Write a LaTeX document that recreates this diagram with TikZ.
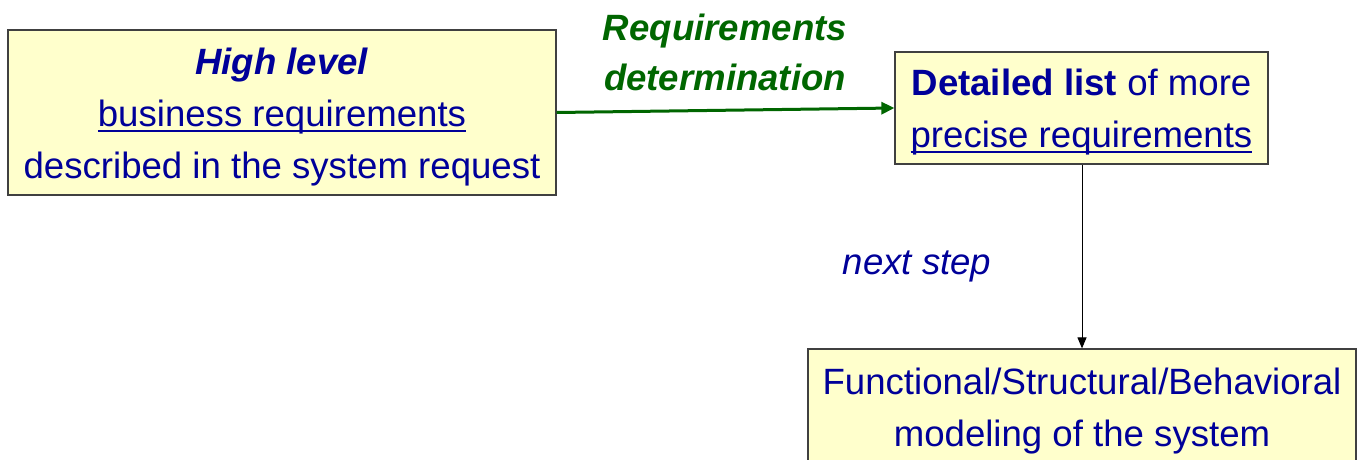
\documentclass[tikz,border=0pt]{standalone}
\usepackage{fontspec}
\setmainfont{Liberation Sans}
\usetikzlibrary{arrows.meta}
\definecolor{navy}{HTML}{000099}
\definecolor{dgreen}{HTML}{006600}
\definecolor{boxfill}{HTML}{FFFFCC}
\definecolor{boxline}{HTML}{404040}
\newcommand\myul[1]{\setbox0\hbox{#1}\rlap{\usebox0}\rule[-6pt]{\wd0}{2.2pt}}
\tikzset{
  box/.style={draw=boxline, line width=1.2pt, fill=boxfill, inner sep=0pt},
  txt/.style={inner sep=0pt, align=center, text=navy, font=\fontsize{36.6}{52}\selectfont},
  lbl/.style={inner sep=0pt, align=center},
}
\begin{document}
\begin{tikzpicture}[x=1pt,y=-1pt]
\useasboundingbox (0,0) rectangle (1357,460);
\node[box, minimum width=548pt, minimum height=165pt] (b1) at (282,112.5) {};
\node[txt] (t1) at (282,117) {\textbf{\textit{High level}}\\\myul{business requirements}\\described in the system request};
\node[box, minimum width=373pt, minimum height=112pt] (b2) at (1081.5,108) {};
\node[txt] (t2) at (1081.5,112) {\textbf{Detailed list} of more\\\myul{precise requirements}};
\node[box, minimum width=548pt, minimum height=117pt] (b3) at (1082,407.5) {};
\node[txt] (t3) at (1082,411.5) {Functional/Structural/Behavioral\\modeling of the system};
\draw[dgreen, line width=3pt, -{Triangle[length=13pt,width=12pt]}] (b1.east) -- (b2.west);
\draw[black, line width=1pt, -{Triangle[length=11pt,width=9pt]}] (b2.south -| 1082,0) -- (b3.north -| 1082,0);
\node[lbl, text=dgreen, font=\fontsize{36.6}{50}\selectfont\bfseries\itshape] (req) at (725,52) {Requirements\\determination};
\node[lbl, text=navy, font=\fontsize{36.6}{40}\selectfont\itshape] (ns) at (917,266) {next step};
\end{tikzpicture}
\end{document}
